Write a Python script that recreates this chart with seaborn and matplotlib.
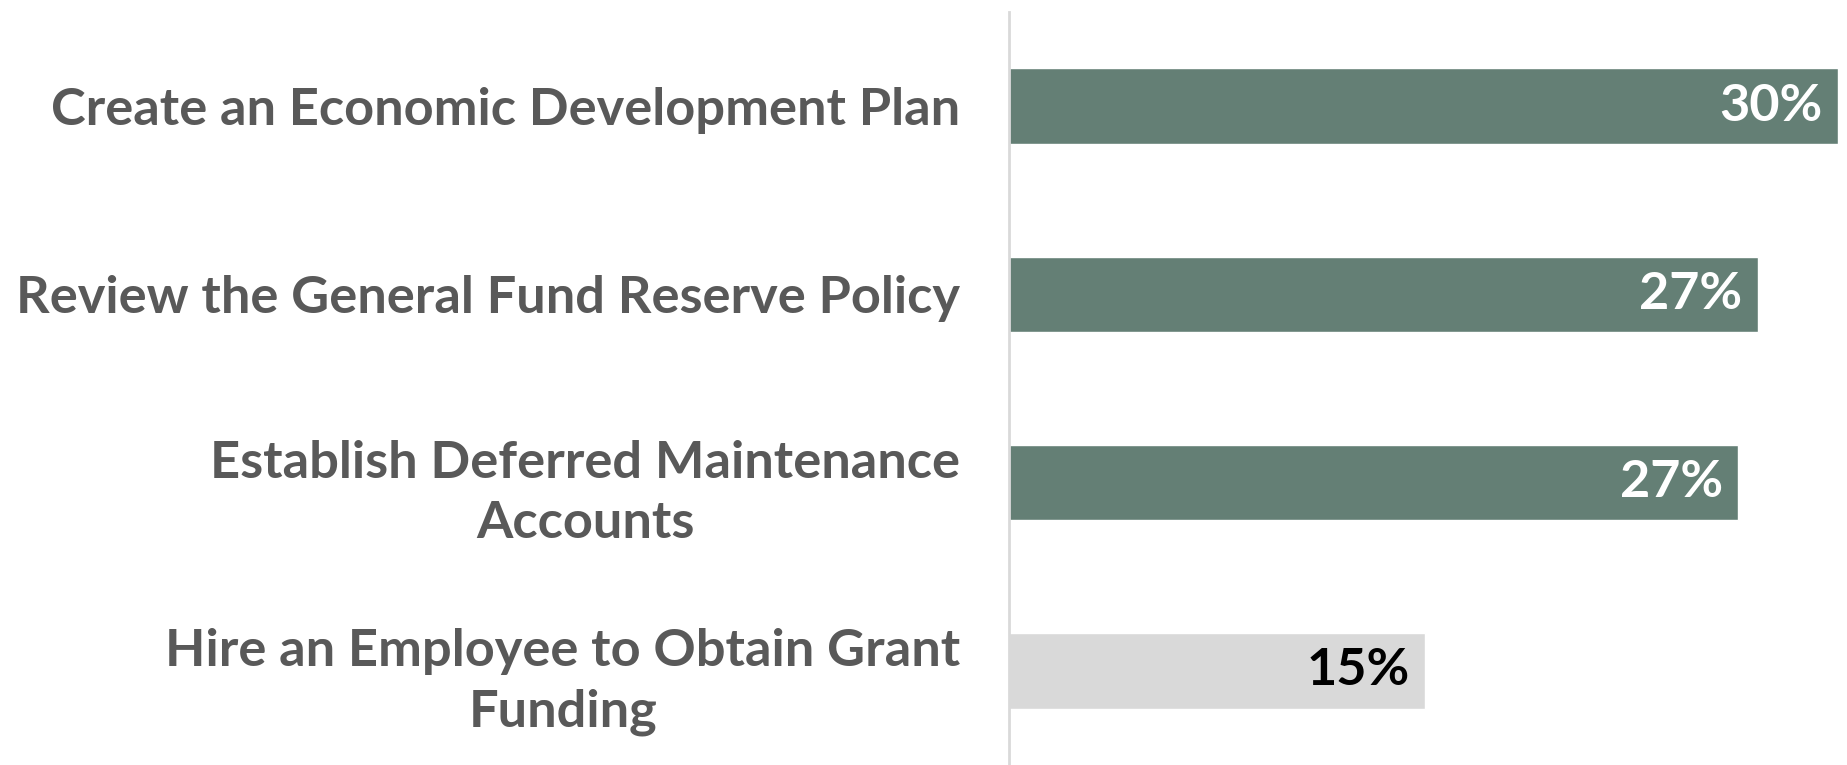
import matplotlib
matplotlib.use("Agg")
import matplotlib.pyplot as plt
import seaborn as sns
import pandas as pd

categories = [
    "Create an Economic Development Plan",
    "Review the General Fund Reserve Policy",
    "Establish Deferred Maintenance\nAccounts",
    "Hire an Employee to Obtain Grant\nFunding",
]
values = [29.9, 27.0, 26.3, 15.0]
value_labels = ["30%", "27%", "27%", "15%"]
bar_colors = ["#647F75", "#647F75", "#647F75", "#D9D9D9"]
label_colors = ["white", "white", "white", "black"]

sns.set_theme(style="white")
plt.rcParams["font.family"] = ["Lato", "DejaVu Sans"]

df = pd.DataFrame({"cat": categories, "val": values})

fig = plt.figure(figsize=(18.47, 7.65), dpi=100)
ax = fig.add_axes([1009 / 1847, 0.0, (1838 - 1009) / 1847, 1 - 12 / 765])

sns.barplot(data=df, x="val", y="cat", hue="cat", palette=bar_colors,
            legend=False, width=0.40, ax=ax, saturation=1)

ax.set_xlim(0, 29.9)
ax.set_ylim(3.5, -0.5)
ax.set_xlabel("")
ax.set_ylabel("")
ax.set_xticks([])
for s in ["top", "right", "bottom"]:
    ax.spines[s].set_visible(False)
ax.spines["left"].set_color("#D9D9D9")
ax.spines["left"].set_linewidth(2)

ax.tick_params(axis="y", length=0, pad=35)
for lbl in ax.get_yticklabels():
    lbl.set_fontsize(37.7)
    lbl.set_fontweight("bold")
    lbl.set_color("#595959")
    lbl.set_multialignment("center")
    lbl.set_linespacing(1.35)

for i, (v, t, c) in enumerate(zip(values, value_labels, label_colors)):
    ax.text(v - 0.55, i, t, ha="right", va="center", fontsize=37.5,
            fontweight="bold", color=c)

fig.savefig("out.png", dpi=100)
